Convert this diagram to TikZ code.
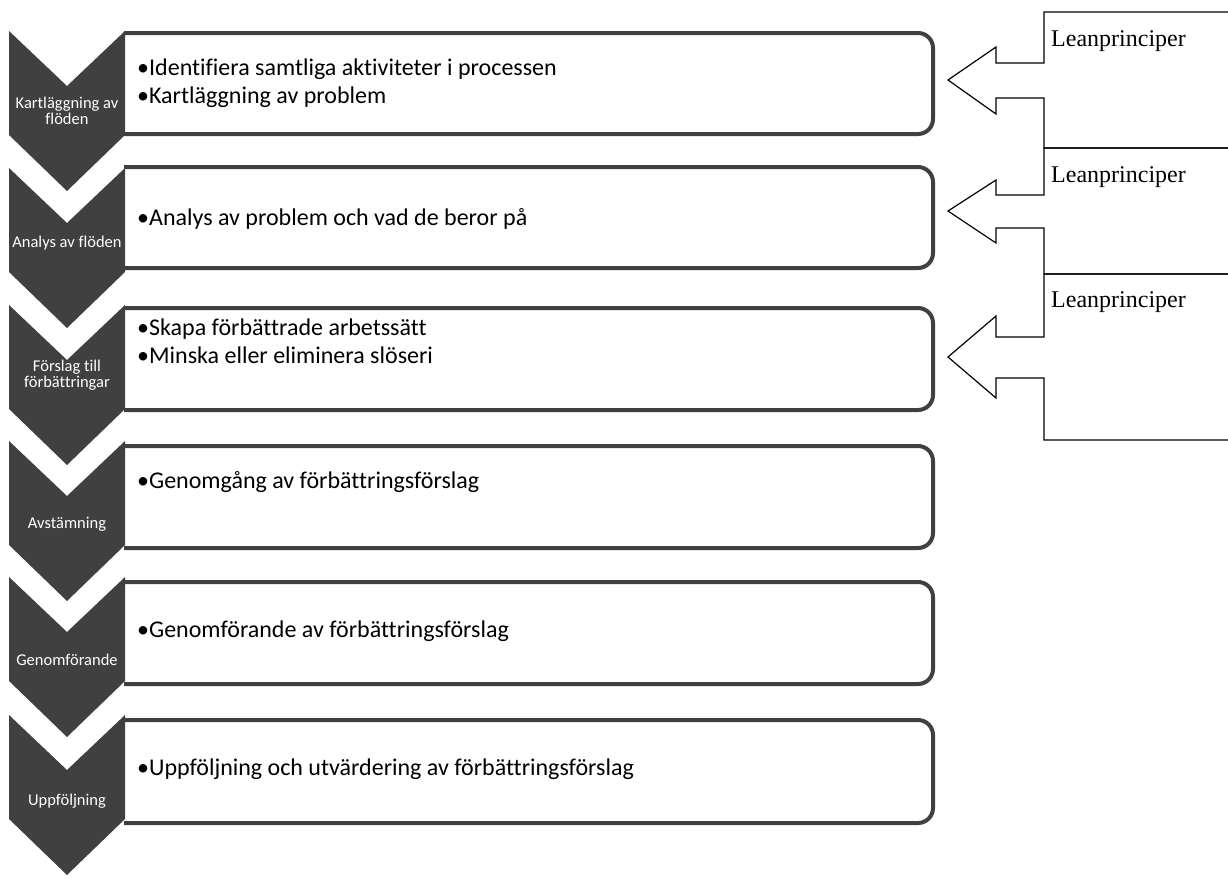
\documentclass[tikz,border=0pt]{standalone}
\usepackage{fontspec}
\setmainfont{Carlito}[Ligatures=CommonOff]
\newfontfamily\leanfont{Liberation Serif}
\definecolor{stepgray}{HTML}{404040}
\begin{document}
\begin{tikzpicture}[
    x=1pt, y=-1pt,
    stage/.style={fill=stepgray, draw=none},
    stagelabel/.style={anchor=base, text=white, align=center, inner sep=0pt, font=\fontsize{16.5}{15.5}\selectfont},
    stepframe/.style={draw=stepgray, line width=4pt, rounded corners=15pt},
    steptext/.style={anchor=base west, align=left, inner sep=0pt, font=\fontsize{24}{27.5}\selectfont},
    callout/.style={draw, line width=1.2pt},
    leantext/.style={anchor=base west, inner sep=0pt, font=\leanfont\fontsize{24}{28}\selectfont}
]
\useasboundingbox (0,0) rectangle (1228,878);

\foreach \top/\bot in {33/134, 167/268, 308/410, 446/548, 582/684, 720/823}
    \draw[stepframe] (124,\top) -- (933,\top) -- (933,\bot) -- (124,\bot);

\foreach \top/\base/\name/\lbl in {
        31/124/kart/{Kartläggning av\\flöden},
        168/247/analys/{Analys av flöden},
        305/387/forslag/{Förslag till\\förbättringar},
        441/528/avst/{Avstämning},
        577/665/genomf/{Genomförande},
        715/805/uppf/{Uppföljning}} {
    \fill[stage] (9,\top) -- (67,\top+55) -- (125,\top) -- (125,\top+104)
        -- (67,\top+160) -- (9,\top+104) -- cycle;
    \node[stagelabel] (\name) at (67,\base) {\lbl};
}

\node[steptext] (t1) at (137,103) {•Identifiera samtliga aktiviteter i processen\\•Kartläggning av problem};
\node[steptext] (t2) at (137,225) {•Analys av problem och vad de beror på};
\node[steptext] (t3) at (137,363) {•Skapa förbättrade arbetssätt\\•Minska eller eliminera slöseri};
\node[steptext] (t4) at (137,488) {•Genomgång av förbättringsförslag};
\node[steptext] (t5) at (137,637) {•Genomförande av förbättringsförslag};
\node[steptext] (t6) at (137,775) {•Uppföljning och utvärdering av förbättringsförslag};

\draw[callout] (1044,12) -- (1240,12) -- (1240,148) -- (1044,148) -- (1044,98) -- (996,98)
    -- (996,114) -- (948,80) -- (996,47) -- (996,63) -- (1044,63) -- cycle;
\draw[callout] (1044,148) -- (1240,148) -- (1240,274) -- (1044,274) -- (1044,228) -- (996,228)
    -- (996,243) -- (948,211) -- (996,180) -- (996,195) -- (1044,195) -- cycle;
\draw[callout] (1044,274) -- (1240,274) -- (1240,440) -- (1044,440) -- (1044,378) -- (996,378)
    -- (996,398) -- (948,357) -- (996,316) -- (996,337) -- (1044,337) -- cycle;

\node[leantext] (lean1) at (1051,46) {Leanprinciper};
\node[leantext] (lean2) at (1051,182) {Leanprinciper};
\node[leantext] (lean3) at (1051,307) {Leanprinciper};
\end{tikzpicture}
\end{document}
